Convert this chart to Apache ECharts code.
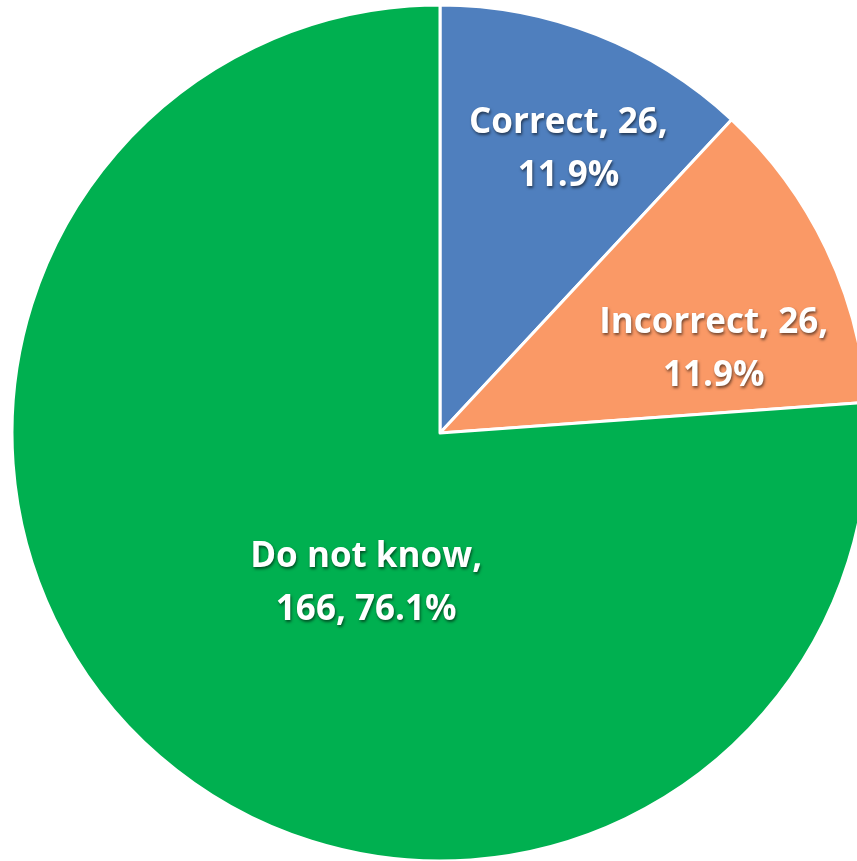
<!DOCTYPE html>
<html>
<head>
<meta charset="utf-8">
<script src="https://cdn.jsdelivr.net/npm/echarts@6/dist/echarts.min.js"></script>
<style>
  html, body { margin: 0; padding: 0; background: #fff; }
  #main { width: 857px; height: 861px; }
</style>
</head>
<body>
<div id="main"></div>
<script>
// data
const names = ['Correct', 'Incorrect', 'Do not know'];
const counts = [26, 26, 166];
const colors = ['#4F7FBE', '#FA9966', '#00B050'];

const total = counts.reduce((a, b) => a + b, 0);

// label nudges from the default inside position (Excel puts them elsewhere)
const nudge = [[49, -82], [78, 10], [74, -8]];

var myChart = echarts.init(document.getElementById('main'));

let pieData = [];
for (let i = 0; i < names.length; i++) {
  pieData.push({
    name: names[i],
    value: counts[i],
    itemStyle: { color: colors[i] }
  });
}

var option = {
  animation: false,
  series: [
    {
      type: 'pie',
      center: [440, 433],
      radius: 428,
      startAngle: 90,
      clockwise: true,
      itemStyle: { borderColor: '#fff', borderWidth: 3 },
      label: {
        position: 'inside',
        color: '#fff',
        fontFamily: 'Open Sans',
        fontWeight: 'bold',
        fontSize: 35,
        lineHeight: 53,
        align: 'center',
        textShadowColor: 'rgba(0,0,0,0.55)',
        textShadowBlur: 3,
        textShadowOffsetX: 1,
        textShadowOffsetY: 2,
        formatter: function (p) {
          const pct = (p.value / total * 100).toFixed(1) + '%';
          if (p.dataIndex === 2) {
            return p.name + ',\n' + p.value + ', ' + pct;
          }
          return p.name + ', ' + p.value + ',\n' + pct;
        }
      },
      labelLine: { show: false },
      labelLayout: function (params) {
        const n = nudge[params.dataIndex];
        return { dx: n[0], dy: n[1] };
      },
      data: pieData
    }
  ]
};

myChart.setOption(option);
</script>
</body>
</html>
